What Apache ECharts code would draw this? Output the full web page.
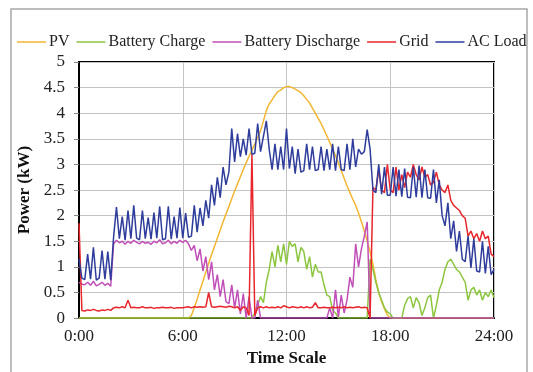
<!DOCTYPE html>
<html>
<head>
<meta charset="utf-8">
<script src="https://cdn.jsdelivr.net/npm/echarts@6/dist/echarts.min.js"></script>
<style>
  html, body { margin: 0; padding: 0; background: #fff; }
  #chart { width: 533px; height: 372px; }
</style>
</head>
<body>
<div id="chart"></div>
<script>
// Daily power profile, one sample every 10 minutes (0:00 .. 24:00, 145 samples)
const seriesNames = ['PV', 'Battery Charge', 'Battery Discharge', 'Grid', 'AC Load'];
const yTicks = { min: 0, max: 5, step: 0.5 };
const xTicks = { min: 0, max: 24, step: 6 };

const pv = [
  0, 0, 0, 0, 0, 0,
  0, 0, 0, 0, 0, 0,
  0, 0, 0, 0, 0, 0,
  0, 0, 0, 0, 0, 0,
  0, 0, 0, 0, 0, 0,
  0, 0, 0, 0, 0, 0,
  0, 0, 0, 0.05, 0.20, 0.37,
  0.55, 0.72, 0.90, 1.07, 1.24, 1.40,
  1.56, 1.72, 1.88, 2.03, 2.18, 2.33,
  2.48, 2.62, 2.76, 2.90, 3.03, 3.16,
  3.28, 3.40, 3.52, 3.66, 3.85, 4.05,
  4.18, 4.26, 4.35, 4.42, 4.45, 4.50,
  4.52, 4.52, 4.50, 4.47, 4.44, 4.40,
  4.34, 4.27, 4.20, 4.10, 4.00, 3.90,
  3.80, 3.68, 3.56, 3.43, 3.30, 3.17,
  3.03, 2.88, 2.73, 2.58, 2.45, 2.32,
  2.20, 2.05, 1.88, 1.70, 1.50, 1.30,
  1.05, 0.75, 0.50, 0.32, 0.18, 0.06,
  0, 0, 0, 0, 0, 0,
  0, 0, 0, 0, 0, 0,
  0, 0, 0, 0, 0, 0,
  0, 0, 0, 0, 0, 0,
  0, 0, 0, 0, 0, 0,
  0, 0, 0, 0, 0, 0,
  0
];

const batteryCharge = [
  0, 0, 0, 0, 0, 0,
  0, 0, 0, 0, 0, 0,
  0, 0, 0, 0, 0, 0,
  0, 0, 0, 0, 0, 0,
  0, 0, 0, 0, 0, 0,
  0, 0, 0, 0, 0, 0,
  0, 0, 0, 0, 0, 0,
  0, 0, 0, 0, 0, 0,
  0, 0, 0, 0, 0, 0,
  0, 0, 0, 0, 0, 0,
  0.00, 0.10, 0.25, 0.42, 0.30, 0.70,
  0.95, 1.30, 1.00, 1.42, 1.10, 1.45,
  1.05, 1.50, 1.40, 1.45, 1.10, 1.38,
  1.30, 0.95, 1.20, 0.80, 1.05, 0.90,
  0.90, 0.65, 0.45, 0.42, 0.15, 0.10,
  0, 0, 0, 0, 0, 0,
  0, 0, 0, 0, 0, 1.15,
  0.95, 0.70, 0.50, 0.35, 0.20, 0.12,
  0.08, 0.00, 0.00, 0.00, 0.00, 0.25,
  0.38, 0.42, 0.20, 0.40, 0.30, 0.05,
  0.20, 0.40, 0.45, 0.00, 0.25, 0.55,
  0.70, 0.95, 1.10, 1.15, 1.05, 0.95,
  0.90, 0.80, 0.70, 0.35, 0.55, 0.60,
  0.45, 0.55, 0.35, 0.50, 0.42, 0.55,
  0.40
];

const batteryDischarge = [
  0.70, 0.66, 0.65, 0.70, 0.64, 0.72,
  0.63, 0.66, 0.70, 0.64, 0.68, 0.62,
  1.45, 1.52, 1.47, 1.50, 1.44, 1.50,
  1.46, 1.52, 1.48, 1.45, 1.50, 1.46,
  1.48, 1.44, 1.50, 1.47, 1.53, 1.45,
  1.47, 1.52, 1.45, 1.50, 1.46, 1.52,
  1.48, 1.52, 1.45, 1.32, 1.42, 1.12,
  1.35, 0.92, 1.20, 0.75, 1.10, 0.55,
  0.85, 0.42, 0.75, 0.32, 0.28, 0.65,
  0.20, 0.55, 0.08, 0.48, 0.00, 0.42,
  0.00, 0.00, 0.35, 0.00, 0.00, 0.00,
  0, 0, 0, 0, 0, 0,
  0, 0, 0, 0, 0, 0,
  0, 0, 0, 0, 0, 0,
  0, 0, 0, 0.20, 0, 0.55,
  0.02, 0.45, 0.10, 0.35, 0.80, 0.60,
  1.45, 1.00, 1.35, 1.60, 1.88, 0.00,
  0, 0, 0, 0, 0, 0,
  0, 0, 0, 0, 0, 0,
  0, 0, 0, 0, 0, 0,
  0, 0, 0, 0, 0, 0,
  0, 0, 0, 0, 0, 0,
  0, 0, 0, 0, 0, 0,
  0, 0, 0, 0, 0, 0,
  0
];

const grid = [
  1.85, 0.15, 0.14, 0.16, 0.15, 0.17,
  0.15, 0.14, 0.16, 0.15, 0.17, 0.15,
  0.20, 0.21, 0.20, 0.22, 0.20, 0.35,
  0.20, 0.21, 0.20, 0.20, 0.22, 0.20,
  0.20, 0.21, 0.19, 0.20, 0.20, 0.21,
  0.20, 0.20, 0.21, 0.19, 0.20, 0.20,
  0.20, 0.21, 0.22, 0.20, 0.22, 0.21,
  0.22, 0.21, 0.22, 0.50, 0.22, 0.21,
  0.22, 0.23, 0.22, 0.21, 0.23, 0.22,
  0.20, 0.22, 0.15, 0.22, 0.20, 0.05,
  3.20, 0.05, 0.20, 0.22, 0.20, 0.22,
  0.20, 0.21, 0.20, 0.22, 0.20, 0.24,
  0.22, 0.20, 0.22, 0.21, 0.20, 0.22,
  0.20, 0.22, 0.20, 0.21, 0.30, 0.20,
  0.20, 0.21, 0.20, 0.20, 0.21, 0.20,
  0.21, 0.20, 0.22, 0.20, 0.21, 0.20,
  0.21, 0.22, 0.20, 0.21, 0.20, 0.00,
  2.55, 2.50, 2.90, 2.50, 2.45, 3.00,
  2.50, 2.45, 2.95, 2.50, 2.80, 2.55,
  2.85, 2.75, 3.00, 2.80, 2.70, 2.95,
  2.75, 2.80, 2.60, 2.65, 2.85, 2.60,
  2.50, 2.45, 2.60, 2.30, 2.20, 2.15,
  2.10, 2.00, 1.95, 1.60, 1.70, 1.55,
  1.65, 1.50, 1.70, 1.55, 1.60, 1.25,
  1.20
];

const acLoad = [
  1.15, 0.78, 0.75, 1.25, 0.76, 1.38,
  0.74, 0.78, 1.32, 0.76, 1.30, 0.74,
  1.58, 2.17, 1.55, 1.98, 1.52, 2.10,
  1.55, 2.20, 1.56, 1.53, 2.10, 1.55,
  1.96, 1.54, 2.06, 1.56, 2.18, 1.53,
  1.55, 2.18, 1.54, 1.98, 1.56, 2.16,
  1.56, 2.05, 1.58, 1.60, 2.20, 1.68,
  2.15, 1.80, 2.30, 1.95, 2.60, 2.20,
  2.75, 2.35, 2.95, 2.60, 2.85, 3.70,
  3.05, 3.60, 3.15, 3.50, 3.18, 3.70,
  3.20, 3.22, 3.80, 3.25, 3.55, 3.85,
  3.30, 2.90, 3.40, 2.90, 3.35, 2.90,
  3.70, 2.92, 3.35, 2.82, 3.30, 2.85,
  2.88, 3.40, 2.90, 3.35, 2.88, 2.90,
  3.35, 2.88, 3.30, 2.90, 3.40, 2.88,
  3.35, 2.90, 2.88, 3.40, 2.90, 3.50,
  2.95, 3.30, 3.20, 3.25, 3.68, 3.30,
  2.50, 2.45, 3.00, 2.42, 2.95, 2.40,
  2.40, 2.95, 2.38, 2.90, 2.37, 2.92,
  2.36, 2.35, 2.95, 2.36, 2.98, 2.35,
  2.90, 2.35, 2.34, 2.90, 2.25, 2.70,
  2.00, 1.80, 2.25, 1.55, 1.90, 1.30,
  1.70, 1.15, 1.10, 1.60, 0.98, 1.55,
  0.92, 0.90, 1.50, 0.87, 1.40, 0.85,
  0.95
];

const colors = ['#f2b632', '#8cc63f', '#c050b8', '#e8262b', '#2e3d9c'];
const values = [pv, batteryCharge, batteryDischarge, grid, acLoad];

// sample time in hours for each index (10-minute step)
const hours = acLoad.map((_, i) => i / 6);

const serif = 'Liberation Serif, Times New Roman, serif';

const chart = echarts.init(document.getElementById('chart'), null, { renderer: 'canvas' });

chart.setOption({
  animation: false,
  backgroundColor: '#fff',
  color: colors,
  graphic: [{
    type: 'rect',
    silent: true,
    z: -10,
    shape: { x: 11, y: 9, width: 516, height: 400 },
    style: { fill: 'none', stroke: '#a8a8a8', lineWidth: 1.5 }
  }],
  legend: {
    data: seriesNames.map(name => ({ name, icon: 'rect' })),
    top: 34,
    left: 17,
    width: 520,
    padding: 0,
    itemWidth: 29,
    itemHeight: 1.5,
    itemGap: 7,
    textStyle: { fontFamily: serif, fontSize: 16, color: '#222', padding: [0, 0, 0, -2] }
  },
  grid: {
    left: 79, right: 39, top: 62, bottom: 47,
    show: true, borderColor: '#000', borderWidth: 2, backgroundColor: '#fff'
  },
  xAxis: {
    type: 'value',
    min: xTicks.min, max: xTicks.max, interval: xTicks.step,
    name: 'Time Scale',
    nameLocation: 'middle',
    nameGap: 30,
    nameTextStyle: { fontFamily: serif, fontSize: 17, fontWeight: 'bold', color: '#111' },
    axisLine: { show: true, lineStyle: { color: '#000', width: 2 } },
    axisTick: { show: false },
    axisLabel: { fontFamily: serif, fontSize: 17, color: '#222', margin: 10,
      formatter: v => v + ':00' },
    splitLine: { show: true, lineStyle: { color: '#c4c4c4', width: 1 } }
  },
  yAxis: {
    type: 'value',
    min: yTicks.min, max: yTicks.max, interval: yTicks.step,
    name: 'Power (kW)',
    nameLocation: 'middle',
    nameGap: 44,
    nameTextStyle: { fontFamily: serif, fontSize: 17, fontWeight: 'bold', color: '#111' },
    axisLine: { show: true, lineStyle: { color: '#000', width: 2 } },
    axisTick: { show: true, inside: false, length: 5, lineStyle: { color: '#888' } },
    axisLabel: { fontFamily: serif, fontSize: 17, color: '#222', margin: 14 },
    splitLine: { show: true, lineStyle: { color: '#c4c4c4', width: 1 } }
  },
  series: seriesNames.map((name, k) => ({
    name,
    type: 'line',
    symbol: 'none',
    data: values[k].map((v, i) => [hours[i], v]),
    lineStyle: { width: 1.5, color: colors[k] },
    itemStyle: { color: colors[k] },
    z: 2 + k
  }))
});
</script>
</body>
</html>
